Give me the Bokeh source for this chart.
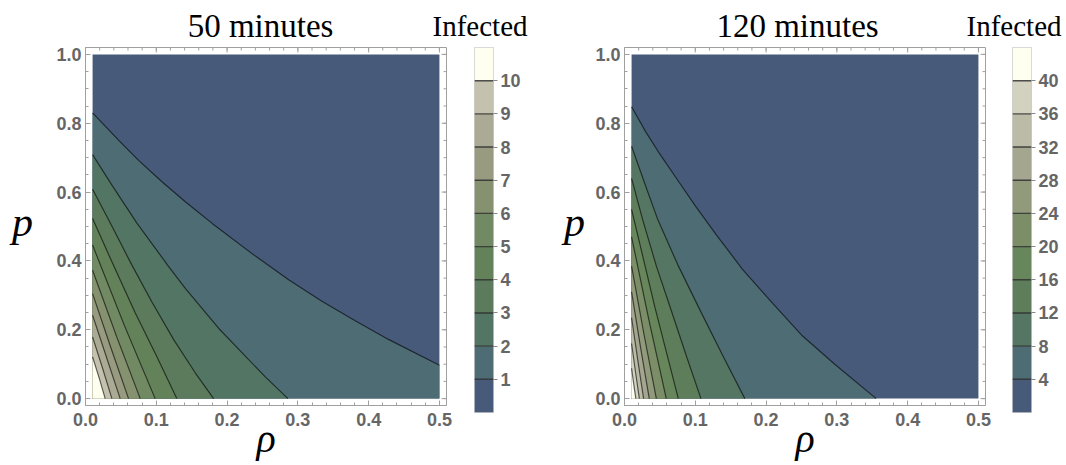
from bokeh.plotting import figure
from bokeh.models import (Range1d, LinearAxis, SingleIntervalTicker, PrintfTickFormatter,
                          FixedTicker)
from bokeh.core.properties import value
from bokeh.layouts import row, column
from bokeh.embed import file_html
from bokeh.resources import INLINE

# parameter domain of the contour maps
RHO_MIN, RHO_MAX = 0.01, 0.5
P_MIN, P_MAX = 0.0, 1.0

TITLES = ["50 minutes", "120 minutes"]
CBAR_TITLE = "Infected"
X_LABEL = "ρ"
Y_LABEL = "p"

# ---- 50 minutes -------------------------------------------------------
LEVELS_50 = [1, 2, 3, 4, 5, 6, 7, 8, 9, 10]
CBAR_50 = [0, 11]
BANDS_50 = ["#475a7a", "#4e6c74", "#537564", "#5b7b5c", "#63825a", "#728a63",
            "#85916f", "#989b80", "#abab95", "#c4c2ae", "#fffff0"]
# contour lines, one list per level (rho along the line, p along the line)
RHO_50 = [
    [0.01, 0.047, 0.075, 0.108, 0.141, 0.179, 0.24, 0.287, 0.334, 0.381, 0.428, 0.5],
    [0.01, 0.0373, 0.0726, 0.117, 0.141, 0.19, 0.254, 0.286],
    [0.01, 0.035, 0.065, 0.094, 0.125, 0.155, 0.181],
    [0.01, 0.04, 0.07, 0.10, 0.129],
    [0.01, 0.055, 0.0984],
    [0.01, 0.044, 0.0773],
    [0.01, 0.036, 0.0608],
    [0.01, 0.030, 0.049],
    [0.01, 0.024, 0.0373],
    [0.01, 0.0195, 0.0278],
]
P_50 = [
    [0.83, 0.75, 0.692, 0.63, 0.572, 0.509, 0.414, 0.345, 0.283, 0.226, 0.172, 0.097],
    [0.709, 0.62, 0.51, 0.385, 0.32, 0.2, 0.063, 0.0],
    [0.608, 0.51, 0.39, 0.28, 0.17, 0.075, 0.0],
    [0.523, 0.385, 0.25, 0.125, 0.0],
    [0.446, 0.212, 0.0],
    [0.373, 0.18, 0.0],
    [0.305, 0.147, 0.0],
    [0.242, 0.118, 0.0],
    [0.179, 0.089, 0.0],
    [0.121, 0.059, 0.0],
]

# ---- 120 minutes ------------------------------------------------------
LEVELS_120 = [4, 8, 12, 16, 20, 24, 28, 32, 36, 40]
CBAR_120 = [0, 44]
BANDS_120 = ["#475a7a", "#4e6c74", "#547663", "#5e7e5b", "#67865b", "#7b8e68",
             "#919a7b", "#a5a68f", "#bcbba7", "#d3d2c0", "#fffff0"]
RHO_120 = [
    [0.01, 0.03, 0.05, 0.075, 0.10, 0.13, 0.167, 0.21, 0.25, 0.297, 0.3556],
    [0.01, 0.03, 0.047, 0.075, 0.106, 0.14, 0.17],
    [0.01, 0.0256, 0.045, 0.067, 0.088, 0.108],
    [0.01, 0.043, 0.076],
    [0.01, 0.0345, 0.059],
    [0.01, 0.0275, 0.045],
    [0.01, 0.0225, 0.035],
    [0.01, 0.0185, 0.027],
    [0.01, 0.0155, 0.021],
    [0.01, 0.013, 0.016],
]
P_120 = [
    [0.848, 0.775, 0.71, 0.635, 0.56, 0.475, 0.375, 0.275, 0.185, 0.10, 0.0],
    [0.733, 0.617, 0.52, 0.39, 0.26, 0.12, 0.0],
    [0.64, 0.52, 0.385, 0.25, 0.12, 0.0],
    [0.55, 0.265, 0.0],
    [0.47, 0.228, 0.0],
    [0.385, 0.187, 0.0],
    [0.31, 0.151, 0.0],
    [0.235, 0.115, 0.0],
    [0.16, 0.078, 0.0],
    [0.088, 0.043, 0.0],
]

# ---- styling / page geometry -----------------------------------------
SANS = "Liberation Sans"
SERIF = "Liberation Serif"
TICK_COLOR = "#666666"
FRAME_COLOR = "#a0a0a0"
X0, X1 = 0.0, 0.51          # padded rho range of the frame
Y0, Y1 = -0.02, 1.02        # padded p range of the frame
FW, FH = 361, 358           # frame size of each map
PAGE_W, PAGE_H = 1066, 465
TOP_H = 45                  # strip holding the titles
ROW_H = PAGE_H - TOP_H
X_MAJOR, X_MINOR = 0.1, 0.02
Y_MAJOR, Y_MINOR = 0.2, 0.05


def new_fig(**kw):
    f = figure(title=None, x_axis_type=None, y_axis_type=None,
               output_backend="svg", toolbar_location=None, **kw)
    f.background_fill_color = "white"
    f.border_fill_color = "white"
    return f


def blank(width, height, xr, yr):
    f = new_fig(frame_width=width, frame_height=height,
                x_range=Range1d(*xr), y_range=Range1d(*yr), min_border=0)
    f.outline_line_color = None
    return f


def style_axis(ax, standoff):
    ax.axis_line_color = FRAME_COLOR
    ax.major_tick_line_color = FRAME_COLOR
    ax.minor_tick_line_color = FRAME_COLOR
    ax.major_tick_in, ax.major_tick_out = 5, 0
    ax.minor_tick_in, ax.minor_tick_out = 3, 0
    ax.major_label_standoff = standoff
    ax.major_label_text_font = SANS
    ax.major_label_text_font_style = "bold"
    ax.major_label_text_font_size = "18px"
    ax.major_label_text_color = TICK_COLOR
    ax.formatter = PrintfTickFormatter(format="%.1f")


def tick_positions(lo, hi, step):
    n = int(round((hi - lo) / step))
    return [lo + i * step for i in range(n + 1)]


def contour_map(levels, bands, rhos, ps, border_left, border_right):
    p = new_fig(frame_width=FW, frame_height=FH,
                x_range=Range1d(X0, X1), y_range=Range1d(Y0, Y1),
                min_border_left=border_left, min_border_right=border_right,
                min_border_top=2, min_border_bottom=ROW_H - 2 - FH)
    p.outline_line_color = FRAME_COLOR

    bottom = LinearAxis(ticker=SingleIntervalTicker(interval=X_MAJOR, num_minor_ticks=5),
                        axis_label=X_LABEL)
    style_axis(bottom, 7)
    bottom.axis_label_text_font = SERIF
    bottom.axis_label_text_font_style = "italic"
    bottom.axis_label_text_font_size = "40px"
    bottom.axis_label_text_color = "black"
    bottom.axis_label_standoff = -13
    p.add_layout(bottom, "below")
    left = LinearAxis(ticker=SingleIntervalTicker(interval=Y_MAJOR, num_minor_ticks=4))
    style_axis(left, 4)
    p.add_layout(left, "left")

    # inward ticks on the top and right edges of the frame
    dx = (X1 - X0) / FW
    dy = (Y1 - Y0) / FH
    for step, ln in ((X_MAJOR, 5), (X_MINOR, 3)):
        xs = tick_positions(0.0, 0.5, step)
        p.segment(x0=xs, y0=[Y1] * len(xs), x1=xs, y1=[Y1 - ln * dy] * len(xs),
                  line_color=FRAME_COLOR, line_width=1)
    for step, ln in ((Y_MAJOR, 5), (Y_MINOR, 3)):
        ys = tick_positions(0.0, 1.0, step)
        p.segment(x0=[X1] * len(ys), y0=ys, x1=[X1 - ln * dx] * len(ys), y1=ys,
                  line_color=FRAME_COLOR, line_width=1)

    # lowest band everywhere, then the region under each contour line on top
    p.quad(left=RHO_MIN, right=RHO_MAX, bottom=P_MIN, top=P_MAX,
           fill_color=bands[0], line_color=None)
    xs, ys = [], []
    for r, q in zip(rhos, ps):
        rx, qy = list(r), list(q)
        if qy[-1] > P_MIN:
            rx.append(RHO_MAX)
            qy.append(P_MIN)
        rx.append(RHO_MIN)
        qy.append(P_MIN)
        xs.append(rx)
        ys.append(qy)
    p.patches(xs, ys, fill_color=bands[1:len(levels) + 1], line_color=None)
    p.multi_line(rhos, ps, line_color="black", line_alpha=0.6, line_width=1.2)
    return p


def color_bar(levels, bands, cbar, border_left, border_right):
    cb_h = 365
    c = new_fig(frame_width=19, frame_height=cb_h,
                x_range=Range1d(0, 1), y_range=Range1d(cbar[0], cbar[1]),
                min_border_left=border_left, min_border_right=border_right,
                min_border_top=2, min_border_bottom=ROW_H - 2 - cb_h)
    c.outline_line_color = "#cccccc"
    edges = [cbar[0]] + list(levels) + [cbar[1]]
    c.quad(left=0, right=1, bottom=edges[:-1], top=edges[1:],
           fill_color=bands, line_color=None)
    c.segment(x0=[0] * len(levels), y0=levels, x1=[1] * len(levels), y1=levels,
              line_color="#2e2e2e", line_alpha=0.85, line_width=1.4)
    ax = LinearAxis(ticker=FixedTicker(ticks=levels))
    ax.axis_line_color = None
    ax.major_tick_line_color = "#888888"
    ax.major_tick_in, ax.major_tick_out = 0, 4
    ax.minor_tick_line_color = None
    ax.major_label_standoff = 3
    ax.major_label_text_font = SANS
    ax.major_label_text_font_style = "bold"
    ax.major_label_text_font_size = "18px"
    ax.major_label_text_color = TICK_COLOR
    ax.formatter = PrintfTickFormatter(format="%d")
    c.add_layout(ax, "right")
    return c


def put_text(f, xs, ys, texts, size, align, style="normal"):
    # ys are the vertical centres of the text lines
    f.text(x=xs, y=ys, text=texts, text_font=value(SERIF), text_font_size=size,
           text_font_style=style, text_align=align, text_baseline="middle",
           text_color="black")


# titles across the top (page pixel coordinates, y downwards)
top = blank(PAGE_W, TOP_H, (0, PAGE_W), (TOP_H, 0))
put_text(top, [260, 797], [25, 25], TITLES, "33px", "center")
put_text(top, [527, 1061], [25, 25], [CBAR_TITLE, CBAR_TITLE], "29px", "right")

# vertical-axis symbols left of each map
pa = blank(45, ROW_H, (0, 45), (PAGE_H, TOP_H))
put_text(pa, [22], [219], [Y_LABEL], "42px", "center", "italic")
pc = blank(50, ROW_H, (540, 590), (PAGE_H, TOP_H))
put_text(pc, [574], [219], [Y_LABEL], "42px", "center", "italic")

map_a = contour_map(LEVELS_50, BANDS_50, RHO_50, P_50, 40, 14)
cb_a = color_bar(LEVELS_50, BANDS_50, CBAR_50, 14, 47)
map_c = contour_map(LEVELS_120, BANDS_120, RHO_120, P_120, 34, 12)
cb_c = color_bar(LEVELS_120, BANDS_120, CBAR_120, 15, 35)

layout = column(top, row(pa, map_a, cb_a, pc, map_c, cb_c))
open("out.html", "w").write(file_html(layout, INLINE))
